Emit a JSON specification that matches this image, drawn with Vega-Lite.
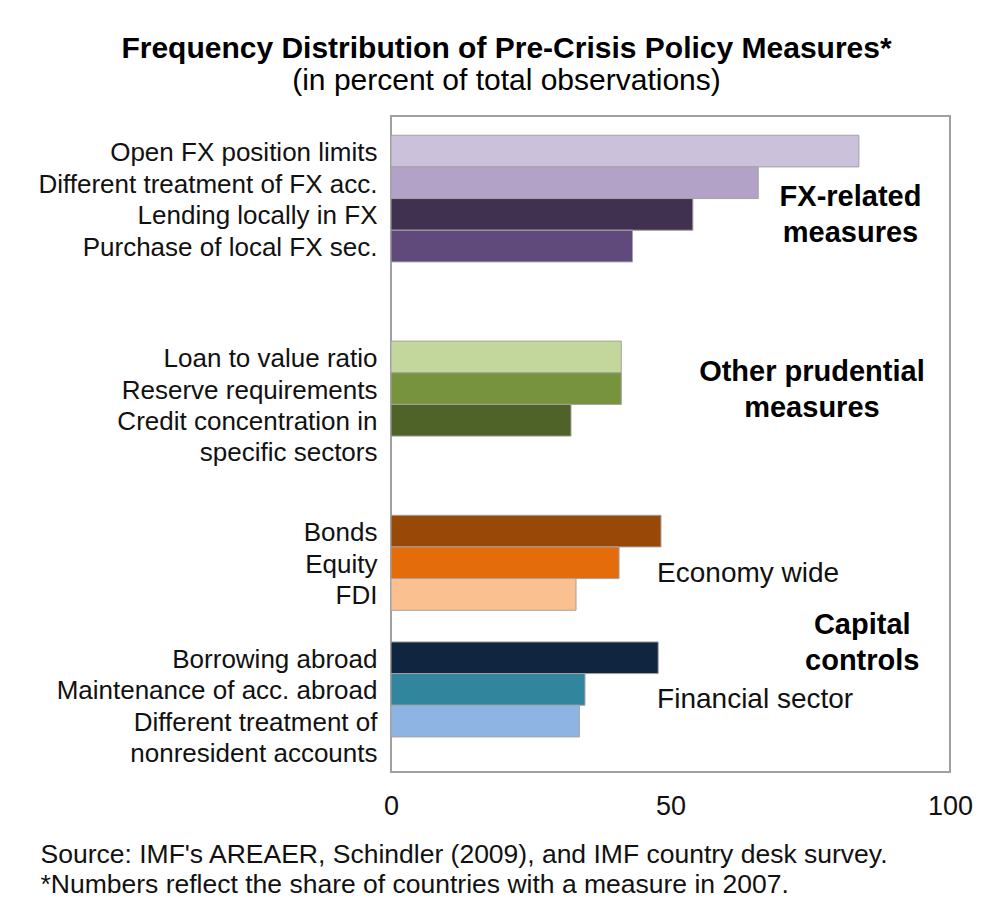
{
  "$schema": "https://vega.github.io/schema/vega-lite/v6.json",
  "width": 559,
  "height": 656,
  "autosize": "none",
  "padding": {"left": 391, "top": 116, "right": 39, "bottom": 132},
  "background": "white",
  "config": {
    "font": "Liberation Sans",
    "view": {"stroke": "#a0a0a0", "strokeWidth": 2}
  },
  "title": {
    "text": "Frequency Distribution of Pre-Crisis Policy Measures*",
    "subtitle": "(in percent of total observations)",
    "anchor": "middle",
    "frame": "group",
    "dx": -164,
    "offset": 20,
    "font": "Liberation Sans",
    "fontSize": 30,
    "fontWeight": "bold",
    "color": "#000000",
    "subtitleFont": "Liberation Sans",
    "subtitleFontSize": 30,
    "subtitleColor": "#000000",
    "subtitlePadding": 2
  },
  "datasets": {
    "bars": [
      {"measure": "Open FX position limits", "pct": 83.7},
      {"measure": "Different treatment of FX acc.", "pct": 65.7},
      {"measure": "Lending locally in FX", "pct": 54.0},
      {"measure": "Purchase of local FX sec.", "pct": 43.2},
      {"measure": "Loan to value ratio", "pct": 41.2},
      {"measure": "Reserve requirements", "pct": 41.2},
      {"measure": "Credit concentration in specific sectors", "pct": 32.2},
      {"measure": "Bonds", "pct": 48.3},
      {"measure": "Equity", "pct": 40.8},
      {"measure": "FDI", "pct": 33.1},
      {"measure": "Borrowing abroad", "pct": 47.8},
      {"measure": "Maintenance of acc. abroad", "pct": 34.7},
      {"measure": "Different treatment of nonresident accounts", "pct": 33.7}
    ],
    "notes": [
      {"note": "FX-related\nmeasures", "kind": "group", "x": 82.2, "slot": "Lending locally in FX"},
      {"note": "Other prudential\nmeasures", "kind": "group", "x": 75.3, "slot": "Reserve requirements"},
      {"note": "Capital\ncontrols", "kind": "group", "x": 84.3, "slot": "_32"},
      {"note": "Economy wide", "kind": "sub", "x": 47.6, "slot": "_28"},
      {"note": "Financial sector", "kind": "sub", "x": 47.6, "slot": "_36"}
    ]
  },
  "layer": [
    {
      "data": {"name": "bars"},
      "mark": {"type": "bar", "height": {"band": 2}, "stroke": "#a3a3a3", "strokeWidth": 1},
      "encoding": {
        "y": {
          "field": "measure",
          "type": "nominal",
          "sort": null,
          "scale": {
            "type": "band",
            "paddingInner": 0,
            "paddingOuter": 0.715,
            "domain": ["_0", "Open FX position limits", "_2", "Different treatment of FX acc.", "_4", "Lending locally in FX", "_6", "Purchase of local FX sec.", "_8", "_9", "_10", "_11", "_12", "_13", "Loan to value ratio", "_15", "Reserve requirements", "_17", "Credit concentration in specific sectors", "_19", "_20", "_21", "_22", "_23", "_24", "Bonds", "_26", "Equity", "_28", "FDI", "_30", "_31", "_32", "Borrowing abroad", "_34", "Maintenance of acc. abroad", "_36", "Different treatment of nonresident accounts", "_38", "_39"]
          },
          "axis": {
            "title": null,
            "domain": false,
            "ticks": false,
            "tickSize": 0,
            "grid": false,
            "labelOverlap": false,
            "labelBound": false,
            "labelLimit": 500,
            "labelPadding": 14,
            "labelFont": "Liberation Sans",
            "labelFontSize": 26,
            "labelColor": "#111111",
            "labelBaseline": "alphabetic",
            "labelOffset": 10,
            "labelLineHeight": 31,
            "labelExpr": "indexof(datum.value, '_') == 0 ? '' : datum.value == 'Credit concentration in specific sectors' ? ['Credit concentration in', 'specific sectors'] : datum.value == 'Different treatment of nonresident accounts' ? ['Different treatment of', 'nonresident accounts'] : datum.value"
          }
        },
        "x": {
          "field": "pct",
          "type": "quantitative",
          "scale": {"domain": [0, 100], "nice": false},
          "axis": {
            "values": [0, 50, 100],
            "grid": false,
            "domain": false,
            "ticks": false,
            "tickSize": 0,
            "labelPadding": 21,
            "labelFont": "Liberation Sans",
            "labelFontSize": 27,
            "labelColor": "#111111",
            "labelFlush": false,
            "title": ["Source: IMF's AREAER, Schindler (2009), and IMF country desk survey.", "*Numbers reflect the share of countries with a measure in 2007."],
            "titleAnchor": "start",
            "titleAlign": "left",
            "titleBaseline": "top",
            "titleX": -351,
            "titleY": 69,
            "titleFont": "Liberation Sans",
            "titleFontSize": 26.5,
            "titleFontWeight": "normal",
            "titleLineHeight": 30,
            "titleColor": "#111111"
          }
        },
        "color": {
          "field": "measure",
          "type": "nominal",
          "legend": null,
          "scale": {
            "domain": ["Open FX position limits", "Different treatment of FX acc.", "Lending locally in FX", "Purchase of local FX sec.", "Loan to value ratio", "Reserve requirements", "Credit concentration in specific sectors", "Bonds", "Equity", "FDI", "Borrowing abroad", "Maintenance of acc. abroad", "Different treatment of nonresident accounts"],
            "range": ["#CCC1DA", "#B3A2C7", "#403151", "#604A7B", "#C3D69B", "#77933C", "#4F6228", "#984807", "#E46C0A", "#FAC090", "#10253F", "#31859C", "#8EB4E3"]
          }
        }
      }
    },
    {
      "data": {"name": "notes"},
      "transform": [{"filter": "datum.kind == 'group'"}],
      "mark": {"type": "text", "font": "Liberation Sans", "fontSize": 29, "fontWeight": "bold", "align": "center", "baseline": "middle", "lineBreak": "\n", "lineHeight": 36, "dy": -17, "color": "#000000"},
      "encoding": {
        "x": {"field": "x", "type": "quantitative"},
        "y": {"field": "slot", "type": "nominal", "sort": null},
        "text": {"field": "note"}
      }
    },
    {
      "data": {"name": "notes"},
      "transform": [{"filter": "datum.kind == 'sub'"}],
      "mark": {"type": "text", "font": "Liberation Sans", "fontSize": 28, "align": "left", "baseline": "middle", "dy": -5, "color": "#111111"},
      "encoding": {
        "x": {"field": "x", "type": "quantitative"},
        "y": {"field": "slot", "type": "nominal", "sort": null},
        "text": {"field": "note"}
      }
    }
  ]
}
